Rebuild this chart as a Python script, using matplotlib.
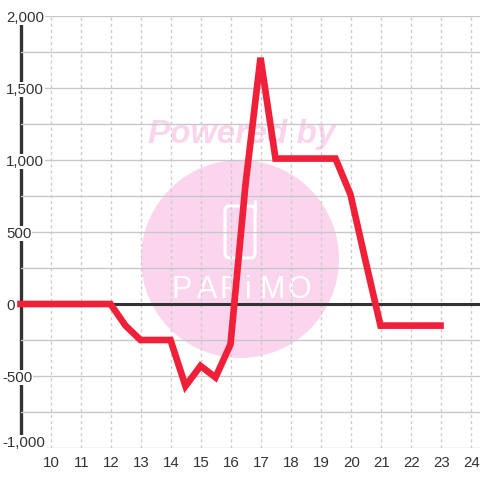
import matplotlib
matplotlib.use('Agg')
import matplotlib.pyplot as plt
from matplotlib.patches import Circle, FancyBboxPatch
from matplotlib.ticker import FuncFormatter
from matplotlib.transforms import ScaledTranslation

hours = [9, 10, 11, 12, 12.5, 13, 14, 14.5, 15, 15.5, 16, 16.5, 17, 17.5, 18, 19, 19.5, 20, 20.5, 21, 22, 23]
values = [0, 0, 0, 0, -150, -250, -250, -570, -430, -510, -280, 830, 1710, 1010, 1010, 1010, 1010, 760, 300, -150, -150, -150]
x_ticks = list(range(10, 25))
y_major = [-1000, -500, 0, 500, 1000, 1500, 2000]
y_minor = [-750, -250, 250, 750, 1250, 1750]
wm_letters = list('PARiMO')
wm_letter_x = [182, 207, 231, 248, 272, 299]

plt.rcParams['font.family'] = ['Liberation Sans', 'DejaVu Sans']
dark = '#333333'
pink = '#fbd5ee'

fig = plt.figure(figsize=(4.8, 4.8), dpi=100, facecolor='white')

# marca d'agua, num eixo de fundo em pixels
bg = fig.add_axes([0, 0, 1, 1], zorder=-1)
bg.set_xlim(0, 480)
bg.set_ylim(480, 0)
bg.axis('off')
bg.add_patch(Circle((240, 259), 99, facecolor=pink, edgecolor='none'))
bg.text(242, 134, 'Powered by', color=pink, fontsize=24, fontweight='bold', style='italic', ha='center', va='center')
bg.add_patch(FancyBboxPatch((225, 206), 30, 52, boxstyle='round,pad=0,rounding_size=5', facecolor='none', edgecolor='white', linewidth=2.2))
bg.plot([255, 255], [201, 212], color='white', linewidth=2.2, solid_capstyle='round')
for xp, letra in zip(wm_letter_x, wm_letters):
    bg.text(xp, 290, letra, color='white', fontsize=22, ha='center', va='center')

# grafico principal: x=20.5 a 480, y=16 a 448 em pixels
ax = fig.add_axes([20.5/480, 1-448/480, 459.5/480, 432/480], zorder=1)
ax.set_xlim(9, 9 + 459.5/30)
ax.set_ylim(-1000, 2000)
ax.patch.set_alpha(0)

ax.set_xticks(x_ticks)
ax.set_yticks(y_major)
ax.set_yticks(y_minor, minor=True)
ax.yaxis.set_major_formatter(FuncFormatter(lambda v, p: f'{int(v):,}'))
ax.grid(True, axis='x', color='#cccccc', linewidth=1, linestyle=(0, (2.2, 2.2)))
ax.grid(True, axis='y', which='both', color='#c8c8c8', linewidth=1)
ax.tick_params(axis='both', which='both', length=0, labelsize=10.8, labelcolor=dark)
ax.tick_params(axis='x', pad=6)
ax.tick_params(axis='y', pad=10.4)

for v, tick in zip(y_major, ax.yaxis.get_major_ticks()):
    if v < 0:
        tick.set_pad(13.3)
for lab in ax.get_yticklabels():
    lab.set_ha('left')
    lab.set_bbox(dict(facecolor='white', edgecolor='none', pad=0.6))
baixo = ax.get_yticklabels()[0]
baixo.set_va('bottom')
baixo.set_transform(baixo.get_transform() + ScaledTranslation(0, -2/100, fig.dpi_scale_trans))

desloc = ScaledTranslation(1/100, 0, fig.dpi_scale_trans)
for lab in ax.get_xticklabels():
    lab.set_transform(lab.get_transform() + desloc)

for s in ['top', 'right', 'bottom']:
    ax.spines[s].set_visible(False)
ax.spines['left'].set_color(dark)
ax.spines['left'].set_linewidth(2.4)
ax.spines['left'].set_zorder(1)
ax.axhline(0, color=dark, linewidth=2.2, zorder=2)
ax.plot(hours, values, color='#ef2038', linewidth=4.8, solid_capstyle='projecting', solid_joinstyle='miter', zorder=3, clip_on=False)

fig.savefig('out.png', dpi=100)
